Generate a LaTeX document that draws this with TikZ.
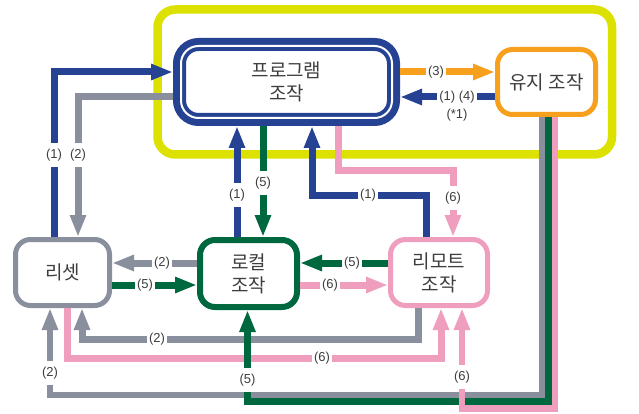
\documentclass[tikz,border=0pt]{standalone}
\usepackage{fontspec}
\setmainfont{Liberation Sans}
\newfontfamily\kr{Noto Sans CJK KR}
\usetikzlibrary{arrows.meta}
\definecolor{cblue}{RGB}{38,66,146}
\definecolor{cgray}{RGB}{138,143,158}
\definecolor{cgreen}{RGB}{0,104,62}
\definecolor{cpink}{RGB}{240,158,190}
\definecolor{corange}{RGB}{247,160,30}
\definecolor{cyellow}{RGB}{221,225,0}
\definecolor{txt}{RGB}{62,62,62}
\begin{document}
\begin{tikzpicture}[x=1pt,y=-1pt,
  box/.style={rounded corners=15pt, align=center, font=\kr\fontsize{19}{23}\selectfont, text=txt, inner sep=0pt},
  lbl/.style={fill=white, font=\fontsize{13}{15}\selectfont, text=txt, inner xsep=2.5pt, inner ysep=6pt},
  arr/.style={line width=7pt, -{Triangle[length=22pt,width=15pt]}},
  bundle/.style={line width=6.5pt, -{Triangle[length=22pt,width=15pt]}},
]
\fill[white] (0,0) rectangle (639,414);
\useasboundingbox (0,0) rectangle (639,414);
% yellow frame
\draw[cyellow, line width=8.5pt, rounded corners=18pt] (157.5,9.5) rectangle (612,154.5);

% boxes
\node[box, draw=cblue, line width=13pt, rounded corners=19pt, minimum width=214pt, minimum height=75pt] (prog) at (286.5,82) {프로그램\\조작};
\draw[white, line width=2pt, rounded corners=17.5pt] ([shift={(8pt,-8pt)}]prog.north west) rectangle ([shift={(-8pt,8pt)}]prog.south east);
\node[box, draw=corange, line width=5pt, minimum width=98pt, minimum height=65pt] (maint) at (546.5,82) {유지 조작};
\node[box, draw=cgray, line width=5pt, minimum width=94pt, minimum height=66pt] (reset) at (62.5,272.5) {리셋};
\node[box, draw=cgreen, line width=6pt, minimum width=97pt, minimum height=67pt] (local) at (248.5,273.5) {로컬\\조작};
\node[box, draw=cpink, line width=5pt, minimum width=97pt, minimum height=66pt] (remote) at (439,272.5) {리모트\\조작};

% top connections
\draw[arr, cblue] (reset.north -| 54,0) |- (prog.west |- 0,72);
\draw[arr, cgray] (prog.west |- 0,97) -| (reset.north -| 78,0);
\draw[arr, corange] (prog.east |- 0,72) -- (maint.west |- 0,72);
\draw[arr, cblue] (maint.west |- 0,97) -- (prog.east |- 0,97);
\draw[arr, cblue] (local.north -| 237,0) -- (prog.south -| 237,0);
\draw[arr, cgreen] (prog.south -| 263,0) -- (local.north -| 263,0);
\draw[arr, cblue] (remote.north -| 426,0) |- (312,195) -- (prog.south -| 312,0);
\draw[arr, cpink] (prog.south -| 338,0) |- (453,171) -- (remote.north -| 453,0);

% middle row
\draw[arr, cgray] (local.west |- 0,263) -- (reset.east |- 0,263);
\draw[arr, cgreen] (reset.east |- 0,285) -- (local.west |- 0,285);
\draw[arr, cgreen] (remote.west |- 0,263) -- (local.east |- 0,263);
\draw[arr, cpink] (local.east |- 0,285) -- (remote.west |- 0,285);

% lower loops
\draw[arr, cgray] (remote.south -| 418,0) |- (82,339) -- (reset.south -| 82,0);
\draw[arr, cpink] (reset.south -| 67,0) |- (441,358) -- (remote.south -| 441,0);

% bundle from maintenance box
\draw[bundle, cgray] (maint.south -| 542,0) |- (50,395) -- (reset.south -| 50,0);
\draw[bundle, cgreen] (maint.south -| 548.5,0) |- (247.5,401.5) -- (local.south -| 247.5,0);
\draw[bundle, cpink] (maint.south -| 555,0) |- (462,408.5) -- (remote.south -| 462,0);

% labels
\node[lbl] (la) at (54,155) {(1)};
\node[lbl] (lb) at (78,155) {(2)};
\node[lbl] (lc) at (436,72) {(3)};
\node[lbl] (ld) at (457,97) {(1) (4)};
\node[font=\fontsize{13}{15}\selectfont, text=txt, inner sep=1pt] (le) at (457,115) {(*1)};
\node[lbl] (lf) at (237,195) {(1)};
\node[lbl] (lg) at (263,183) {(5)};
\node[lbl] (lh) at (368,195) {(1)};
\node[lbl] (li) at (453,198) {(6)};
\node[lbl] (lj) at (162,263) {(2)};
\node[lbl] (lk) at (145,285) {(5)};
\node[lbl] (ll) at (352,263) {(5)};
\node[lbl] (lm) at (330,285) {(6)};
\node[lbl] (ln) at (157,339) {(2)};
\node[lbl] (lo) at (322,358) {(6)};
\node[lbl] (lp) at (50,373) {(2)};
\node[lbl] (lq) at (247.5,380) {(5)};
\node[lbl] (lr) at (462,377) {(6)};
\end{tikzpicture}
\end{document}
